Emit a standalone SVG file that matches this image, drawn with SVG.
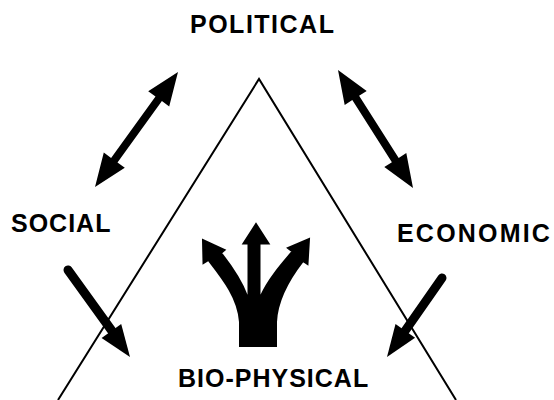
<svg xmlns="http://www.w3.org/2000/svg" width="554" height="400" viewBox="0 0 554 400">
  <style>
    .lbl { font-family: "Liberation Sans", Arial, sans-serif; font-weight: bold; font-size: 25px; fill: #000; }
    .edge { fill: none; stroke: #000; stroke-width: 2; stroke-linejoin: miter; }
    .shaft { stroke: #000; stroke-width: 9; stroke-linecap: round; fill: none; }
    .head { fill: #000; stroke: none; }
    .bold { stroke: #000; stroke-width: 2; stroke-linejoin: miter; stroke-miterlimit: 3; }
  </style>
  <rect width="554" height="400" fill="#fff"/>
  <g id="triangle">
    <polyline class="edge" points="58,400 259,79 456,400"/>
  </g>
  <g id="political"><text class="lbl" x="190" y="33" letter-spacing="1.5">POLITICAL</text></g>
  <g id="social"><text class="lbl" x="11" y="232" letter-spacing="1">SOCIAL</text></g>
  <g id="economic"><text class="lbl" x="397" y="242" letter-spacing="2.2">ECONOMIC</text></g>
  <g id="bio-physical"><text class="lbl" x="178" y="387" letter-spacing="1">BIO-PHYSICAL</text></g>
  <g id="trident">
    <path class="head bold" d="M240,346 L276,346 L276,322 C277,300 289,279 303,261 L307.5,264 L309,239 L288,248 L292.5,251.5 C280.5,265.5 268,280 261,296 L259.5,296 L259.5,243.5 L268.5,243.5 L256,224 L243.5,243.5 L248.5,243.5 L248.5,296 L247,296 C241,280 230.5,265 221,253 L224.5,250 L203,240 L203.5,263 L208.5,260 C222.5,278 238.5,298 240,322 Z"/>
  </g>
  <g id="connectors">
    <polygon class="head" points="178,72 169.2,106.4 161.9,101.1 117.5,162.5 124.8,167.8 95,187 103.8,152.6 111.1,157.9 155.5,96.5 148.2,91.2"/>
    <polygon class="head" points="338,70 366.7,90.9 359.1,95.8 398.7,158 406.3,153.1 413,188 384.3,167.1 391.9,162.2 352.3,100 344.7,104.9"/>
    <line class="shaft" x1="68" y1="270" x2="112" y2="331"/>
    <polygon class="head" points="130,357 101.6,337.9 121.2,323.9"/>
    <line class="shaft" x1="442" y1="278" x2="405" y2="331"/>
    <polygon class="head" points="387,357 415.1,337.7 395.5,323.9"/>
  </g>
</svg>
